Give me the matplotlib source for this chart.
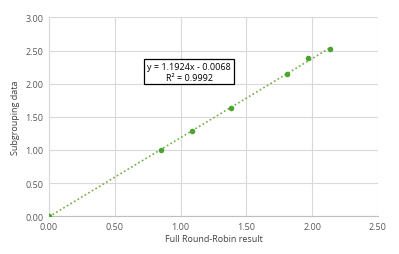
import matplotlib
matplotlib.use("Agg")
import matplotlib.pyplot as plt
import numpy as np

x_vals = [0.00, 0.85, 1.085, 1.38, 1.81, 1.965, 2.135]
y_vals = [0.00, 1.005, 1.28, 1.635, 2.14, 2.385, 2.525]
slope = 1.1924
intercept = -0.0068
eq_text = "y = 1.1924x - 0.0068\nR² = 0.9992"
x_ticks = [0.0, 0.5, 1.0, 1.5, 2.0, 2.5]
y_ticks = [0.0, 0.5, 1.0, 1.5, 2.0, 2.5, 3.0]

plt.rcParams['font.family'] = ['Open Sans', 'DejaVu Sans']

fig = plt.figure(figsize=(3.99, 2.55), dpi=100)
ax = fig.add_axes([0.1228, 0.148, 0.8245, 0.78])

xs = np.array([0.0, max(x_vals)])
ax.plot(xs, slope * xs + intercept, linestyle=(0, (1, 1.5)), color='#70ad47', lw=1.2, zorder=3)
ax.plot(x_vals, y_vals, 'o', color='#4aa52e', markersize=4, markeredgewidth=0, zorder=4)

ax.set_xlim(0, 2.5)
ax.set_ylim(0, 3.0)
ax.set_xticks(x_ticks)
ax.set_yticks(y_ticks)
ax.set_xticklabels([f"{v:.2f}" for v in x_ticks])
ax.set_yticklabels([f"{v:.2f}" for v in y_ticks])
ax.grid(True, color='#d9d9d9', lw=0.8)
ax.set_axisbelow(True)
for s in ax.spines.values():
    s.set_visible(False)
ax.spines['left'].set_visible(True)
ax.spines['bottom'].set_visible(True)
ax.spines['left'].set_color('#d9d9d9')
ax.spines['bottom'].set_color('#bfbfbf')
ax.tick_params(length=0, labelsize=6.5, labelcolor='#595959', pad=4)

ax.set_xlabel("Full Round-Robin result", fontsize=6.5, color='#404040', labelpad=2)
ax.set_ylabel("Subgrouping data", fontsize=6.5, color='#404040', labelpad=4)

ax.text(1.064, 2.18, eq_text, fontsize=6.5, ha='center', va='center', color='#000000',
        multialignment='center', linespacing=1.25,
        bbox=dict(boxstyle='square,pad=0.3', facecolor='white', edgecolor='black', lw=0.9))

fig.savefig("out.png", dpi=100)
